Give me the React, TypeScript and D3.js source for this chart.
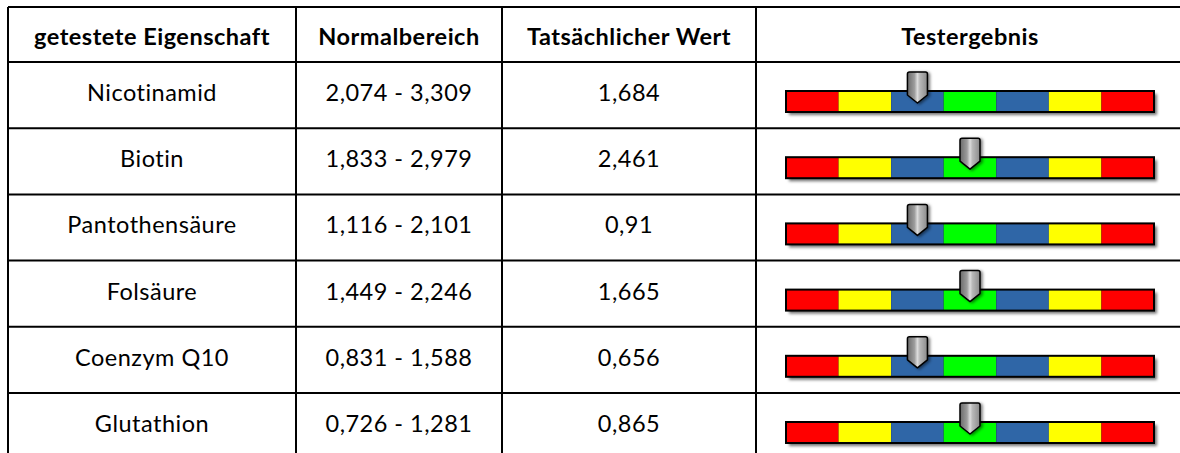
import React from 'react';
import * as d3 from 'd3';

// table data
const headers = ['getestete Eigenschaft', 'Normalbereich', 'Tatsächlicher Wert', 'Testergebnis'];
const properties = ['Nicotinamid', 'Biotin', 'Pantothensäure', 'Folsäure', 'Coenzym Q10', 'Glutathion'];
const rangeLow = [2.074, 1.833, 1.116, 1.449, 0.831, 0.726];
const rangeHigh = [3.309, 2.979, 2.101, 2.246, 1.588, 1.281];
const actual = [1.684, 2.461, 0.91, 1.665, 0.656, 0.865];
const segmentColors = ['#ff0000', '#ffff00', '#2f66a7', '#00ff00', '#2f66a7', '#ffff00', '#ff0000'];

const W = 1180;
const H = 453;
const colEdges = [8, 296, 502, 756, 1200];
const tableTop = 7;
const headerBottom = 62;
const rowH = 66.2;
const font = 'Lato, Calibri, "Open Sans", sans-serif';
const fontSize = 23.5;
const spacing = 0.5;

const fmt = (v: number) => String(v).replace('.', ',');
const fmt3 = (v: number) => v.toFixed(3).replace('.', ',');

// which of the 7 segments the marker sits in
function segmentOf(i: number) {
  const v = actual[i];
  if (v < rangeLow[i]) return 2;
  if (v > rangeHigh[i]) return 4;
  return 3;
}

export default function App() {
  const rowY = d3
    .scaleBand<number>()
    .domain(d3.range(properties.length))
    .range([headerBottom, headerBottom + rowH * properties.length]);
  const seg = d3.scaleBand<number>().domain(d3.range(segmentColors.length)).range([786, 1154]);
  const colMid = (c: number) => (colEdges[c] + colEdges[c + 1]) / 2;
  const barMid = (seg.range()[0] + seg.range()[1]) / 2;
  const barW = seg.range()[1] - seg.range()[0];
  const barH = 21;

  const cellText = (x: number, y: number, t: string, bold = false) => (
    <text
      x={x}
      y={y}
      textAnchor="middle"
      fontFamily={font}
      fontWeight={bold ? 700 : 400}
      fontSize={fontSize}
      letterSpacing={spacing}
      fill="#000"
    >
      {t}
    </text>
  );

  return (
    <svg width={W} height={H} style={{ position: 'absolute', left: 0, top: 0, background: '#fff' }}>
      <defs>
        <filter id="shadow" x="-10%" y="-50%" width="130%" height="250%">
          <feDropShadow dx="3" dy="3" stdDeviation="1.8" floodColor="#000" floodOpacity="0.55" />
        </filter>
        <filter id="pinShadow" x="-50%" y="-20%" width="200%" height="150%">
          <feDropShadow dx="2" dy="1" stdDeviation="1.5" floodColor="#000" floodOpacity="0.5" />
        </filter>
        <linearGradient id="pinGrad" x1="0" x2="1" y1="0" y2="0">
          <stop offset="0" stopColor="#6a6a6a" />
          <stop offset="0.35" stopColor="#9c9c9c" />
          <stop offset="0.5" stopColor="#dcdcdc" />
          <stop offset="0.62" stopColor="#b8b8b8" />
          <stop offset="1" stopColor="#8a8a8a" />
        </linearGradient>
      </defs>
      <rect width={W} height={H} fill="#fff" />

      {/* header */}
      {headers.map((h, c) => (
        <g key={h}>{cellText(c === 3 ? barMid : colMid(c), tableTop + 38, h, true)}</g>
      ))}

      {/* rows */}
      {properties.map((p, i) => {
        const y0 = rowY(i)!;
        const base = y0 + 39;
        const barTop = y0 + 29;
        const s = segmentOf(i);
        const cx = seg(s)! + seg.bandwidth() / 2;
        const pinTop = y0 + 10;
        const pinShoulder = barTop + 4;
        const pinTip = barTop + 12;
        return (
          <g key={p}>
            {cellText(colMid(0), base, p)}
            {cellText(colMid(1), base, `${fmt3(rangeLow[i])} - ${fmt3(rangeHigh[i])}`)}
            {cellText(colMid(2), base, fmt(actual[i]))}
            <g filter="url(#shadow)">
              <rect x={seg(0)} y={barTop} width={barW} height={barH} fill="#000" />
            </g>
            {segmentColors.map((col, k) => (
              <rect key={k} x={seg(k)} y={barTop} width={seg.bandwidth()} height={barH} fill={col} />
            ))}
            <rect x={seg(0)} y={barTop} width={barW} height={barH} fill="none" stroke="#000" strokeWidth={2} />
            <path
              d={`M${cx - 10},${pinTop + 2} Q${cx - 10},${pinTop} ${cx - 8},${pinTop} L${cx + 8},${pinTop} Q${cx + 10},${pinTop} ${cx + 10},${pinTop + 2} L${cx + 10},${pinShoulder} L${cx},${pinTip} L${cx - 10},${pinShoulder} Z`}
              fill="url(#pinGrad)"
              stroke="#000"
              strokeWidth={1.5}
              strokeLinejoin="round"
              filter="url(#pinShadow)"
            />
          </g>
        );
      })}

      {/* grid lines */}
      <g stroke="#000" strokeWidth={2}>
        <line x1={colEdges[0]} x2={W} y1={tableTop} y2={tableTop} />
        <line x1={colEdges[0]} x2={W} y1={headerBottom} y2={headerBottom} />
        {properties.map((p, i) => (
          <line key={p} x1={colEdges[0]} x2={W} y1={rowY(i)! + rowH} y2={rowY(i)! + rowH} />
        ))}
        {colEdges.slice(0, 4).map((x) => (
          <line key={x} x1={x} x2={x} y1={tableTop} y2={H + 20} />
        ))}
      </g>
    </svg>
  );
}
